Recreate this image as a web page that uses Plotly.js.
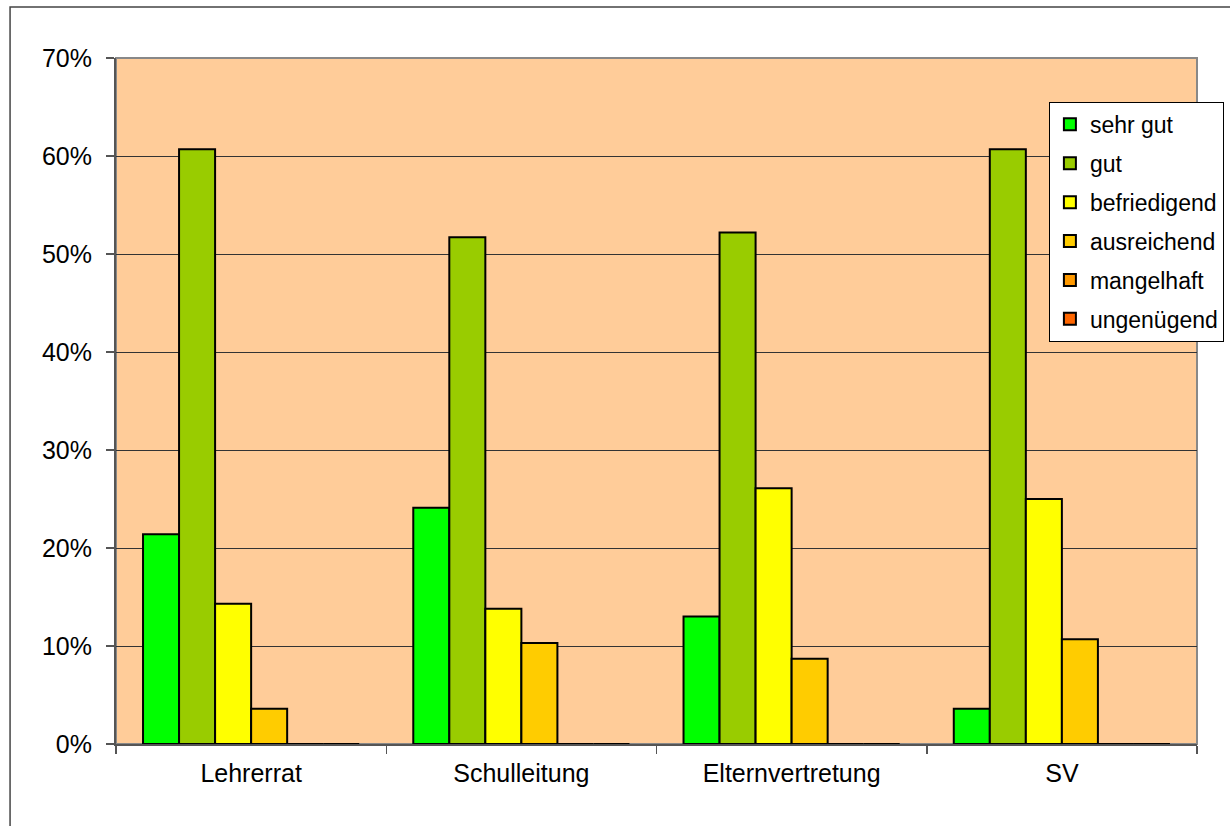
<!DOCTYPE html>
<html>
<head>
<meta charset="utf-8">
<script src="https://cdn.plot.ly/plotly-3.0.1.min.js"></script>
<style>
html,body{margin:0;padding:0;background:#fff;}
#chart{width:1230px;height:826px;}
</style>
</head>
<body>
<div id="chart"></div>
<script>
const categories = ["Lehrerrat", "Schulleitung", "Elternvertretung", "SV"];
const seriesNames = ["sehr gut", "gut", "befriedigend", "ausreichend", "mangelhaft", "ungenügend"];
const sehrGut = [0.214, 0.241, 0.130, 0.036];
const gut = [0.607, 0.517, 0.522, 0.607];
const befriedigend = [0.143, 0.138, 0.261, 0.250];
const ausreichend = [0.036, 0.103, 0.087, 0.107];
const mangelhaft = [0, 0, 0, 0];
const ungenuegend = [0, 0, 0, 0];
const seriesColors = ["#00FF00", "#99CC00", "#FFFF00", "#FFCC00", "#FF9900", "#FF6600"];
const yTickVals = [0, 0.1, 0.2, 0.3, 0.4, 0.5, 0.6, 0.7];
const yTickText = ["0%", "10%", "20%", "30%", "40%", "50%", "60%", "70%"];

const seriesValues = [sehrGut, gut, befriedigend, ausreichend, mangelhaft, ungenuegend];
const FONT = "Liberation Sans, Arial, sans-serif";

const traces = seriesValues.map((vals, i) => ({
  type: "bar",
  name: seriesNames[i],
  x: categories,
  y: vals,
  legendgroup: "g" + i,
  marker: {color: seriesColors[i], line: {color: "#000000", width: 2}},
  hoverinfo: "skip"
}));

const layout = {
  width: 1230,
  height: 826,
  margin: {l: 116, r: 33, t: 58, b: 82, autoexpand: false},
  paper_bgcolor: "#FFFFFF",
  plot_bgcolor: "#FFCC99",
  barmode: "group",
  bargap: 0.2,
  bargroupgap: 0,
  font: {family: FONT, size: 23, color: "#000000"},
  showlegend: true,
  legend: {
    x: 0.863, xanchor: "left",
    y: 0.936, yanchor: "top",
    bgcolor: "#FFFFFF",
    bordercolor: "#000000",
    borderwidth: 1,
    traceorder: "grouped",
    tracegroupgap: 6,
    font: {family: FONT, size: 23, color: "#000000"},
    itemwidth: 30
  },
  xaxis: {
    type: "category",
    tickson: "boundaries",
    ticks: "outside",
    ticklen: 8,
    tickcolor: "#555555",
    tickwidth: 1.5,
    showline: true,
    linecolor: "#555555",
    linewidth: 2,
    showgrid: false,
    mirror: false,
    ticklabelstandoff: 6,
    tickfont: {family: FONT, size: 25, color: "#000000"},
    fixedrange: true
  },
  yaxis: {
    range: [0, 0.7],
    tickvals: yTickVals,
    ticktext: yTickText,
    ticks: "outside",
    ticklen: 8,
    tickcolor: "#555555",
    tickwidth: 1.5,
    showline: true,
    linecolor: "#555555",
    linewidth: 2,
    showgrid: true,
    gridcolor: "#333333",
    gridwidth: 1,
    zeroline: false,
    ticklabelstandoff: 9,
    tickfont: {family: FONT, size: 25, color: "#000000"},
    fixedrange: true
  },
  shapes: [
    {type: "rect", xref: "paper", yref: "paper", x0: 0, x1: 1, y0: 0, y1: 1,
     line: {color: "#888888", width: 2}, fillcolor: "rgba(0,0,0,0)", layer: "below"},
    {type: "rect", xref: "paper", yref: "paper", x0: -0.098, x1: 1.2, y0: -0.2, y1: 1.0743,
     line: {color: "#444444", width: 1.5}, fillcolor: "rgba(0,0,0,0)", layer: "below"}
  ]
};

Plotly.newPlot("chart", traces, layout, {displayModeBar: false, staticPlot: true});
</script>
</body>
</html>
